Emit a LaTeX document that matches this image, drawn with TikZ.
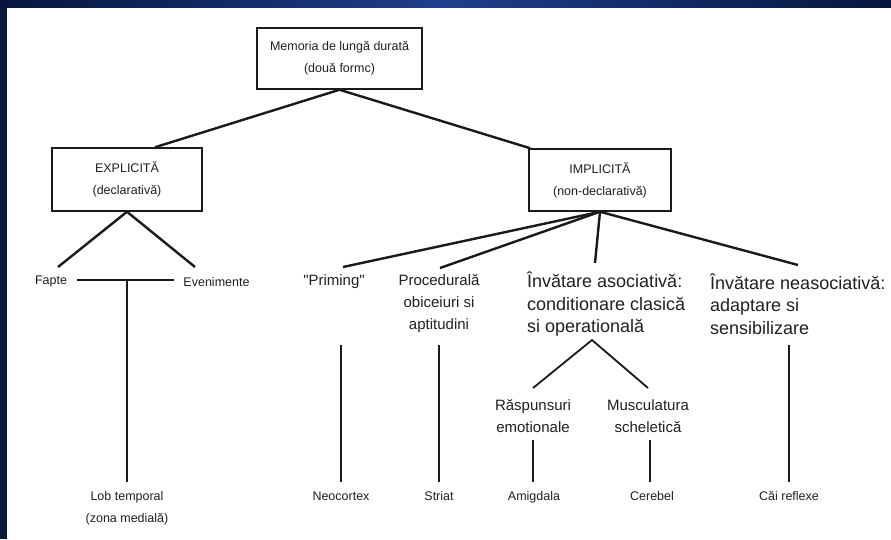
\documentclass[tikz,border=0pt]{standalone}
\usepackage{fontspec}
\setmainfont{Liberation Sans}[Ligatures=TeXOff]
\usetikzlibrary{calc}

\definecolor{ink}{HTML}{1A1A1A}
\definecolor{txt}{HTML}{202020}
\definecolor{navy}{HTML}{0A1838}
\definecolor{navyl}{HTML}{06163C}
\definecolor{navym}{HTML}{1F3F8C}

\newcommand\fBox{\fontsize{12.5}{22}\selectfont}
\newcommand\fMid{\fontsize{15}{22}\selectfont}
\newcommand\fBig{\fontsize{18}{22.5}\selectfont}
\newcommand\fLeaf{\fontsize{12.5}{22}\selectfont}

\begin{document}
\begin{tikzpicture}[x=1pt,y=-1pt,
  link/.style={draw=ink, line width=2.4pt},
  stem/.style={draw=ink, line width=1.4pt},
  frame/.style={draw=ink, line width=1.5pt, fill=white, font=\fBox,
    text=txt, align=center, inner sep=0pt},
  label/.style={font=\fMid, text=txt, align=center, inner sep=0pt},
  biglabel/.style={font=\fBig, text=txt, align=left, inner sep=0pt, anchor=west},
  sidelabel/.style={font=\fBox, text=txt, inner sep=0pt},
  leaf/.style={font=\fLeaf, text=txt, inner sep=0pt, text height=9pt, text depth=2.5pt},
  leafstem/.style={stem, shorten >=9pt}]
\useasboundingbox (0,0) rectangle (891,539);

% slide background: dark frame, gradient band on top, white sheet
\fill[navy] (0,0) rectangle (891,539);
\shade[left color=navyl, right color=navyl, middle color=navym] (0,0) rectangle (891,8);
\fill[white] (7,8) rectangle (891,539);

% boxes
\node[frame, minimum width=165pt, minimum height=61pt] (mem) at (339.5,58.5)
  {Memoria de lungă durată\\(două formc)};
\node[frame, minimum width=150pt, minimum height=63pt] (expl) at (127,179.5)
  {EXPLICITĂ\\(declarativă)};
\node[frame, minimum width=142pt, minimum height=62pt] (impl) at (600,180)
  {IMPLICITĂ\\(non-declarativă)};

% explicit branch
\node[sidelabel] (fapte) at (51,281) {Fapte};
\node[sidelabel] (even) at (216.5,282) {Evenimente};

% implicit branch
\node[label] (prim) at (334,282) {"Priming"};
\node[label] (proc) at (439,304) {Procedurală\\obiceiuri si\\aptitudini};
\node[biglabel] (asoc) at (527,304)
  {Învătare asociativă:\\conditionare clasică\\si operatională};
\node[biglabel] (neas) at (710,304)
  {Învătare neasociativă:\\adaptare si\\sensibilizare};
\node[label] (rasp) at (533,416) {Răspunsuri\\emotionale};
\node[label] (musc) at (648,416) {Musculatura\\scheletică};

% brain structures
\node[font=\fLeaf, text=txt, align=center, inner sep=0pt] (lob) at (127,508.3)
  {Lob temporal\\(zona medială)};
\node[leaf] (neo) at (341,497) {Neocortex};
\node[leaf] (striat) at (439,497) {Striat};
\node[leaf] (amig) at (534,497) {Amigdala};
\node[leaf] (cereb) at (652,497) {Cerebel};
\node[leaf] (cai) at (789,497) {Căi reflexe};

% connectors from the root
\draw[link] (mem.south) -- ($(expl.north)+(28,0)$);
\draw[link] (mem.south) -- ($(impl.north west)+(2,0)$);

% explicit memory
\draw[link] (expl.south) -- ($(fapte.center)+(7,-14)$);
\draw[link] (expl.south) -- ($(even.center)+(-21.5,-15)$);
\draw[link] ($(fapte.east)+(10,-1)$) coordinate (barL) -- ($(even.west)+(-9,-2)$);
\draw[leafstem] (lob.north |- barL) -- (lob.north);

% implicit memory
\draw[link] (impl.south) -- ($(prim.center)+(9,-15)$);
\draw[link] (impl.south) -- ($(proc.center)+(1,-36)$);
\draw[link] (impl.south) -- ($(asoc.west)+(68,-41)$);
\draw[link] (impl.south) -- ($(neas.west)+(88,-39)$);

\draw[leafstem] ($(prim.center)+(7,63)$) -- (neo.north);
\draw[leafstem] ($(proc.center)+(0,41)$) -- (striat.north);
\draw[leafstem] ($(neas.west)+(79,41)$) -- (cai.north);

% associative learning split
\coordinate (split) at ($(asoc.west)+(65,36)$);
\draw[link, line width=1.8pt] ($(rasp.center)+(0,-28)$) -- (split) -- ($(musc.center)+(0,-28)$);
\draw[leafstem] ($(rasp.center)+(0,24)$) -- (amig.north -| rasp.center);
\draw[leafstem] ($(musc.center)+(2,24)$) coordinate (mstem) -- (cereb.north -| mstem);
\end{tikzpicture}
\end{document}
